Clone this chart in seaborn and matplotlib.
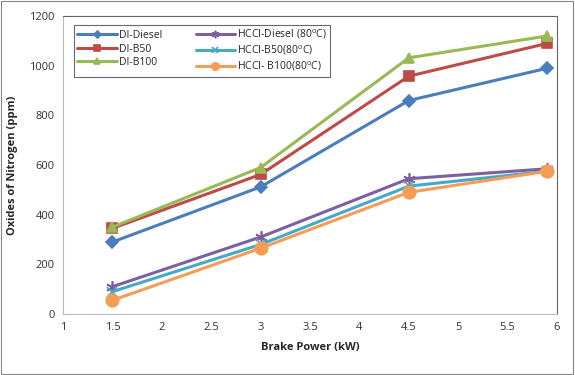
import pandas as pd
import matplotlib.pyplot as plt
import seaborn as sns

# data
brake_power = [1.5, 3, 4.5, 5.9]
di_diesel = [290, 512, 860, 990]
di_b50 = [345, 562, 958, 1090]
di_b100 = [350, 590, 1032, 1120]
hcci_diesel = [110, 310, 545, 585]
hcci_b50 = [90, 280, 515, 575]
hcci_b100 = [55, 265, 490, 575]

labels = ["DI-Diesel", "DI-B50", "DI-B100",
          "HCCI-Diesel (80$^\\mathregular{o}$C)",
          "HCCI-B50(80$^\\mathregular{o}$C)",
          "HCCI- B100(80$^\\mathregular{o}$C)"]
series = [di_diesel, di_b50, di_b100, hcci_diesel, hcci_b50, hcci_b100]

rows = []
for lab, vals in zip(labels, series):
    for x, v in zip(brake_power, vals):
        rows.append({"power": x, "nox": v, "fuel": lab})
df = pd.DataFrame(rows)

colors = ["#4A7EBB", "#BE4B48", "#98B954", "#7D60A0", "#46AAC5", "#F59D56"]
markers = ["D", "s", "^", (6, 2, 0), "x", "o"]
sizes = [6, 7, 7, 9, 7, 9]

sns.set_style("white")
plt.rcParams["font.family"] = ["Open Sans", "DejaVu Sans"]

fig = plt.figure(figsize=(5.75, 3.75), dpi=100)
ax = fig.add_axes([0.1096, 0.1627, 0.8591, 0.7943])

for lab, c, m, s in zip(labels, colors, markers, sizes):
    sns.lineplot(data=df[df["fuel"] == lab], x="power", y="nox", ax=ax,
                 color=c, marker=m, markersize=s, linewidth=2.2,
                 markeredgecolor=c, markeredgewidth=1.2, label=lab)

ax.set_xlim(1, 6)
ax.set_ylim(0, 1200)
ax.set_xticks([1, 1.5, 2, 2.5, 3, 3.5, 4, 4.5, 5, 5.5, 6])
ax.set_xticklabels(["1", "1.5", "2", "2.5", "3", "3.5", "4", "4.5", "5", "5.5", "6"])
ax.set_yticks(range(0, 1201, 200))
ax.tick_params(labelsize=8, colors="#333333", length=0, pad=6)
ax.set_xlabel("Brake Power (kW)", fontsize=8, fontweight="bold", labelpad=6)
ax.set_ylabel("Oxides of Nitrogen (ppm)", fontsize=8, fontweight="bold", labelpad=8)

for sp in ["left", "bottom"]:
    ax.spines[sp].set_color("#BBBBBB")
for sp in ["top", "right"]:
    ax.spines[sp].set_color("#666666")

leg = ax.legend(ncol=2, loc="upper left", bbox_to_anchor=(0.012, 0.988),
                fontsize=7.5, frameon=True, fancybox=False, edgecolor="#444444",
                handlelength=3.8, columnspacing=3.2, borderpad=0.3,
                labelspacing=0.25, handletextpad=0.2, markerscale=0.6)
leg.get_frame().set_linewidth(0.8)

fig.patches.append(plt.Rectangle((0.002, 0.003), 0.995, 0.994, transform=fig.transFigure,
                                 fill=False, edgecolor="#888888", linewidth=0.8))

fig.savefig("out.png", dpi=100)
